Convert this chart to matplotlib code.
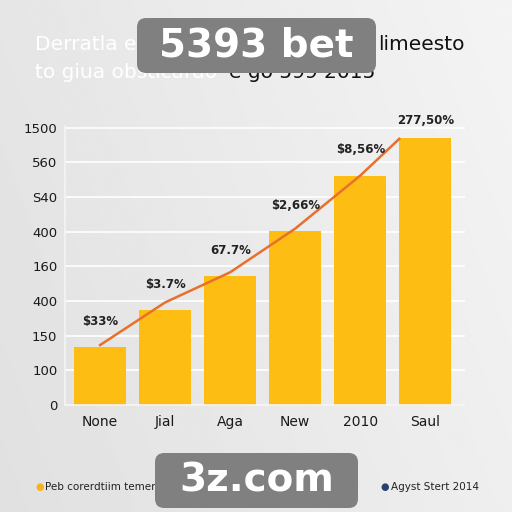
import matplotlib
matplotlib.use("Agg")
import matplotlib.pyplot as plt
from matplotlib.patches import FancyBboxPatch
import numpy as np

categories = ["None", "Jial", "Aga", "New", "2010", "Saul"]
bar_values = [1.67, 2.73, 3.71, 5.01, 6.62, 7.71]
line_values = [1.73, 2.96, 3.83, 5.09, 6.62, 7.68]
bar_labels = ["$33%", "$3.7%", "67.7%", "$2,66%", "$8,56%", "277,50%"]
ytick_labels = ["0", "100", "150", "400", "160", "400", "S40", "560", "1500"]
legend_labels = ["Peb corerdtiim temer", "Agyst Stert 2014"]

BAR = "#fdbd13"
LINE = "#e8702c"

fig = plt.figure(figsize=(5.12, 5.12), dpi=100)
fig.patch.set_facecolor("#e6e6e6")

# background gradient
bg = fig.add_axes([0, 0, 1, 1], zorder=-10)
xx, yy = np.meshgrid(np.linspace(0, 1, 200), np.linspace(0, 1, 200))
grad = 0.88 + 0.055 * xx + 0.02 * yy
bg.imshow(grad, cmap="gray", vmin=0, vmax=1, extent=[0, 1, 0, 1], aspect="auto", origin="lower")
bg.set_axis_off()

ax = fig.add_axes([65 / 512, 1 - 405 / 512, 400 / 512, (405 - 126) / 512])
ax.set_facecolor("none")
x = np.arange(len(categories))
width = 0.8
ax.bar(x, bar_values, width=width, color=BAR, zorder=2)
lx = list(x[:-1]) + [x[-1] - width / 2]
ax.plot(lx, line_values, color=LINE, lw=1.8, zorder=3)
label_offsets = [0.55, 0.55, 0.55, 0.55, 0.55, 0.3]
for i, (v, t) in enumerate(zip(bar_values, bar_labels)):
    ax.text(i, v + label_offsets[i], t, ha="center", va="bottom", fontsize=8.5,
            color="#222222", fontweight="bold", zorder=4)

ax.set_xlim(-0.54, 5.61)
ax.set_ylim(0, 8.05)
ax.set_yticks(range(len(ytick_labels)))
ax.set_yticklabels(ytick_labels, fontsize=9.5, color="#1a1a1a")
ax.set_xticks(x)
ax.set_xticklabels(categories, fontsize=10, color="#1a1a1a")
ax.tick_params(axis="y", length=0, pad=5.5)
ax.tick_params(axis="x", length=0, pad=7)
ax.grid(axis="y", color="white", lw=1.2, zorder=0)
ax.set_axisbelow(True)
for s in ["top", "right"]:
    ax.spines[s].set_visible(False)
ax.spines["left"].set_color("#f4f4f4")
ax.spines["bottom"].set_color("#f4f4f4")
ax.spines["left"].set_linewidth(1.2)
ax.spines["bottom"].set_linewidth(1.2)

# title
fig.text(35 / 512, 1 - 45 / 512, "Derratla e", fontsize=14.5, color="white", va="center")
fig.text(378 / 512, 1 - 45 / 512, "limeesto", fontsize=14.5, color="#111111", va="center")
fig.text(35 / 512, 1 - 72 / 512, "to giua obsticardo", fontsize=14.5, color="white", va="center")
fig.text(229 / 512, 1 - 72 / 512, "e go 599 2015", fontsize=14.5, color="#111111", va="center")

# legend
fig.text(35 / 512, 1 - 487 / 512, "\u25CF", fontsize=7, color="#f5b21c", va="center")
fig.text(45 / 512, 1 - 487 / 512, legend_labels[0], fontsize=7.5, color="#222222", va="center")
fig.text(380 / 512, 1 - 487 / 512, "\u25CF", fontsize=7, color="#2a4170", va="center")
fig.text(391 / 512, 1 - 487 / 512, legend_labels[1], fontsize=7.5, color="#222222", va="center")

# watermarks
for (x0, y0, x1, y1, txt) in [(137, 18, 376, 73, "5393 bet"), (155, 453, 358, 508, "3z.com")]:
    box = FancyBboxPatch((x0 / 512, 1 - y1 / 512), (x1 - x0) / 512, (y1 - y0) / 512,
                         boxstyle="round,pad=0,rounding_size=0.018",
                         transform=fig.transFigure, fc="#808080", ec="none", zorder=20)
    fig.add_artist(box)
    fig.text((x0 + x1) / 2 / 512, 1 - (y0 + y1) / 2 / 512, txt, fontsize=28, color="white",
             fontweight="bold", ha="center", va="center", zorder=21)

fig.savefig("out.png", dpi=100, facecolor=fig.get_facecolor())
